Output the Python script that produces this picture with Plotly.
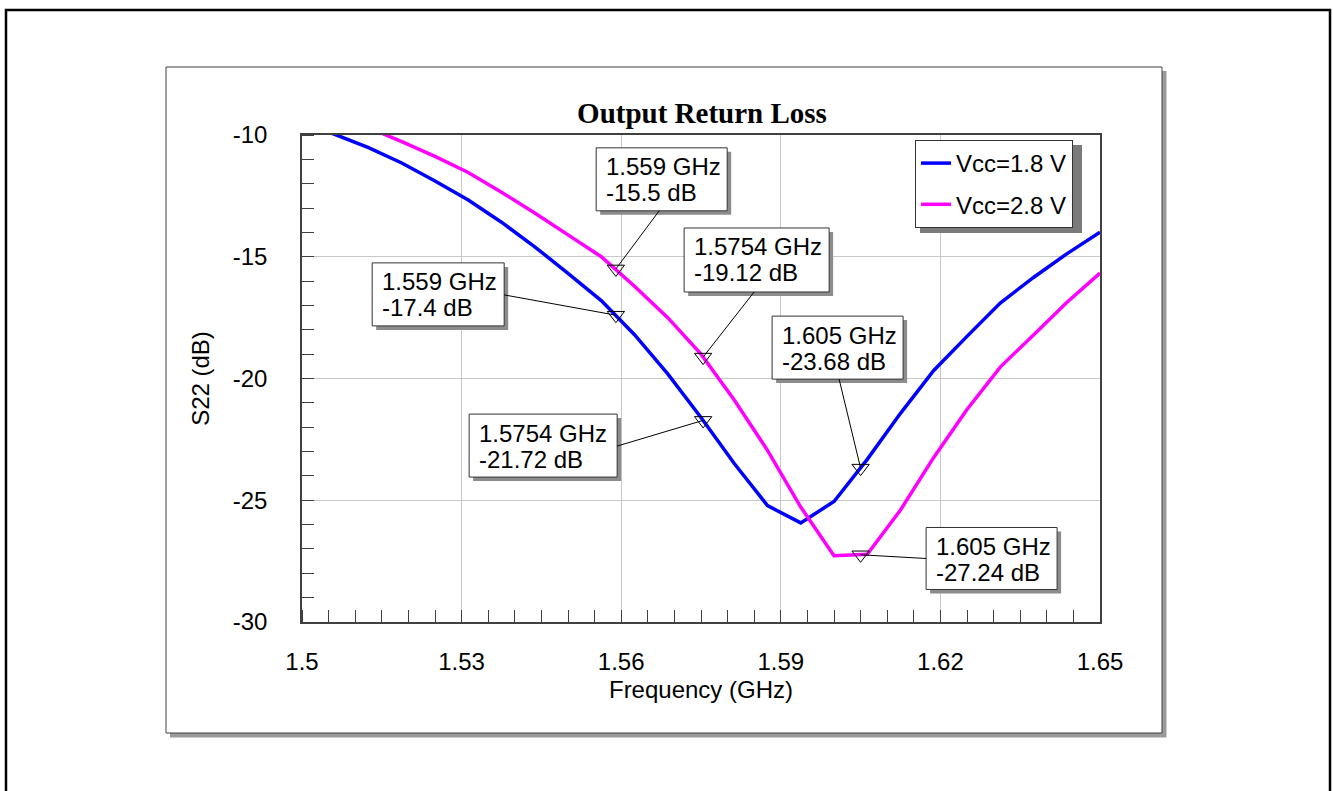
import plotly.graph_objects as go

# ---------------- data ----------------
freq = [1.5, 1.50625, 1.5125, 1.51875, 1.525, 1.53125, 1.5375, 1.54375, 1.55,
        1.55625, 1.5625, 1.56875, 1.575, 1.58125, 1.5875, 1.59375, 1.6,
        1.60625, 1.6125, 1.61875, 1.625, 1.63125, 1.6375, 1.64375, 1.65]
s22_18v = [-9.5, -9.98, -10.52, -11.15, -11.89, -12.67, -13.58, -14.59, -15.68,
           -16.8, -18.2, -19.81, -21.6, -23.49, -25.22, -25.93, -25.05,
           -23.32, -21.43, -19.67, -18.27, -16.9, -15.85, -14.88, -13.99]
s22_28v = [-8.75, -9.2, -9.7, -10.27, -10.88, -11.54, -12.35, -13.2, -14.1,
           -15.0, -16.21, -17.5, -19.0, -20.88, -22.95, -25.28, -27.28,
           -27.22, -25.4, -23.24, -21.27, -19.53, -18.21, -16.88, -15.67]
series_names = ["Vcc=1.8 V", "Vcc=2.8 V"]
series_colors = ["#0000FF", "#FF00FF"]

xtick_vals = [1.5, 1.53, 1.56, 1.59, 1.62, 1.65]
xtick_text = ["1.5", "1.53", "1.56", "1.59", "1.62", "1.65"]
ytick_vals = [-30, -25, -20, -15, -10]
ytick_text = ["-30", "-25", "-20", "-15", "-10"]

mk_freq = [1.559, 1.559, 1.5754, 1.5754, 1.605, 1.605]
mk_val = [-15.5, -17.4, -19.12, -21.72, -23.68, -27.24]
mk_text1 = ["1.559 GHz", "1.559 GHz", "1.5754 GHz", "1.5754 GHz", "1.605 GHz", "1.605 GHz"]
mk_text2 = ["-15.5 dB", "-17.4 dB", "-19.12 dB", "-21.72 dB", "-23.68 dB", "-27.24 dB"]

# callout box placement relative to marker (pixels, screen y down): left, top, width, height
box_geom = [(-19.7, -121.1, 131, 63), (-243.7, -52.3, 132, 63), (-19, -129.1, 145, 64),
            (-234, -6.3, 148, 63), (-88.5, -152, 131, 63), (65.5, -27.3, 131, 62)]
lead_start = [(43.3, -58.1), (-111.7, -20.3), (51, -65.1), (-86, 25.7), (-21.5, -89), (65.5, 3.7)]

# ---------------- layout geometry ----------------
W, H = 1333, 791
L, R, T, B = 302, 1100, 135, 622


def px(x):
    return (x - L) / (R - L)


def py(y):
    return (B - y) / (B - T)


FONT = "Liberation Sans, Arial, sans-serif"

fig = go.Figure()
for vals, name, col in zip([s22_18v, s22_28v], series_names, series_colors):
    fig.add_trace(go.Scatter(x=freq, y=vals, mode="lines", name=name, legendgroup=name,
                             line=dict(color=col, width=3.5)))

fig.add_trace(go.Scatter(x=mk_freq, y=mk_val, mode="markers", showlegend=False,
                         marker=dict(symbol="triangle-down-open", size=15,
                                     color="black", line=dict(width=1, color="black")),
                         hoverinfo="skip"))

shapes = []
# outer frame
shapes.append(dict(type="rect", xref="paper", yref="paper", x0=px(6), x1=px(1330),
                   y0=py(830), y1=py(10), line=dict(color="black", width=2.5), layer="below"))
# inner panel shadow and panel
shapes.append(dict(type="rect", xref="paper", yref="paper", x0=px(170), x1=px(1166.5),
                   y0=py(737.5), y1=py(71), fillcolor="#9a9a9a", line=dict(width=0), layer="below"))
shapes.append(dict(type="rect", xref="paper", yref="paper", x0=px(166), x1=px(1162),
                   y0=py(733), y1=py(67), fillcolor="white", line=dict(color="#404040", width=1),
                   layer="below"))
# legend shadow
shapes.append(dict(type="rect", xref="paper", yref="paper", x0=px(920), x1=px(1082),
                   y0=py(233), y1=py(145), fillcolor="#7a7a7a", line=dict(width=0), layer="above"))

annotations = []
for f, v, (dx, dy, w, h), (lx, ly), t1, t2 in zip(mk_freq, mk_val, box_geom, lead_start,
                                                   mk_text1, mk_text2):
    common = dict(xref="x", yref="y", xsizemode="pixel", ysizemode="pixel",
                  xanchor=f, yanchor=v, layer="above")
    shapes.append(dict(type="rect", x0=dx + 4, x1=dx + w + 4, y0=-(dy + 4), y1=-(dy + h + 4),
                       fillcolor="#8c8c8c", line=dict(width=0), **common))
    shapes.append(dict(type="rect", x0=dx, x1=dx + w, y0=-dy, y1=-(dy + h),
                       fillcolor="white", line=dict(color="#333333", width=1), **common))
    shapes.append(dict(type="line", x0=lx, y0=-ly, x1=0, y1=0,
                       line=dict(color="black", width=1), **common))
    for txt, off in ((t1, 19), (t2, 45)):
        annotations.append(dict(xref="x", yref="y", x=f, y=v, xshift=dx + 7.5,
                                yshift=-(dy + off), xanchor="left", yanchor="middle",
                                showarrow=False, text=txt,
                                font=dict(family=FONT, size=24, color="black")))

axis_common = dict(showline=True, mirror=True, linecolor="#404040", linewidth=1.5,
                   showgrid=True, gridcolor="#c8c8c8", gridwidth=1, zeroline=False,
                   ticks="", tickmode="array",
                   tickfont=dict(family=FONT, size=24, color="black"))

fig.update_layout(
    width=W, height=H,
    margin=dict(l=L, r=W - R, t=T, b=H - B, autoexpand=False),
    paper_bgcolor="white", plot_bgcolor="rgba(0,0,0,0)",
    title=dict(text="<b>Output Return Loss</b>", x=px(702), xref="paper", xanchor="center",
               y=1 - 113 / H, yref="container", yanchor="middle",
               font=dict(family="Liberation Serif, Times New Roman, serif", size=29, color="black")),
    xaxis=dict(range=[1.5, 1.65], tickvals=xtick_vals, ticktext=xtick_text,
               ticklabelstandoff=17,
               minor=dict(tick0=1.5, dtick=0.005, ticks="inside", ticklen=12,
                          tickcolor="#404040", tickwidth=1, showgrid=False),
               title=dict(text="Frequency (GHz)", standoff=8,
                          font=dict(family=FONT, size=24, color="black")),
               **axis_common),
    yaxis=dict(range=[-30, -10], tickvals=ytick_vals, ticktext=ytick_text,
               ticklabelstandoff=28,
               minor=dict(tick0=-30, dtick=1, ticks="inside", ticklen=12,
                          tickcolor="#404040", tickwidth=1, showgrid=False),
               title=dict(text="S22 (dB)", standoff=16,
                          font=dict(family=FONT, size=24, color="black")),
               **axis_common),
    legend=dict(x=px(915), y=py(140), xanchor="left", yanchor="top", bgcolor="white",
                bordercolor="#333333", borderwidth=1, traceorder="grouped", tracegroupgap=7,
                font=dict(family=FONT, size=24, color="black")),
    shapes=shapes,
    annotations=annotations,
    showlegend=True,
)

fig.write_html("out.html")
